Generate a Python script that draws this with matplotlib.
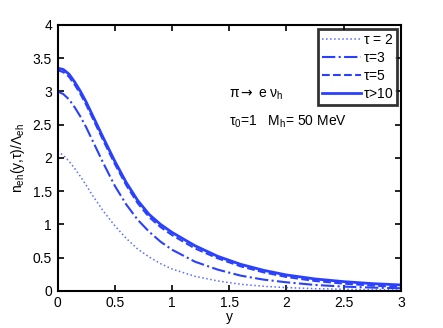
import numpy as np
import matplotlib.pyplot as plt

plt.rcParams['font.family'] = ['Liberation Sans', 'DejaVu Sans']
plt.rcParams['mathtext.default'] = 'regular'

# values
y = [0, 0.05, 0.1, 0.15, 0.2, 0.25, 0.3, 0.4, 0.5, 0.6, 0.7, 0.8, 0.9, 1.0,
     1.2, 1.4, 1.6, 1.8, 2.0, 2.25, 2.5, 2.75, 3.0]
n_tau2 = [2.1, 2.04, 1.95, 1.84, 1.72, 1.59, 1.45, 1.2, 0.98, 0.79, 0.63, 0.51,
          0.41, 0.33, 0.22, 0.15, 0.10, 0.07, 0.05, 0.035, 0.025, 0.02, 0.015]
n_tau3 = [3.0, 2.96, 2.88, 2.76, 2.62, 2.46, 2.28, 1.92, 1.58, 1.3, 1.07, 0.89,
          0.74, 0.62, 0.44, 0.32, 0.23, 0.17, 0.13, 0.09, 0.065, 0.05, 0.04]
n_tau5 = [3.32, 3.29, 3.22, 3.1, 2.96, 2.8, 2.62, 2.26, 1.91, 1.59, 1.32, 1.11,
          0.96, 0.84, 0.64, 0.49, 0.37, 0.28, 0.21, 0.15, 0.11, 0.08, 0.06]
n_tau10 = [3.35, 3.33, 3.26, 3.14, 3.0, 2.84, 2.66, 2.3, 1.95, 1.63, 1.36, 1.15,
           1.0, 0.88, 0.68, 0.52, 0.40, 0.31, 0.24, 0.18, 0.14, 0.11, 0.09]
ticks_x = [0, 0.5, 1, 1.5, 2, 2.5, 3]
ticks_y = [0, 0.5, 1, 1.5, 2, 2.5, 3, 3.5, 4]

blue = '#2a40ff'

fig = plt.figure(figsize=(4.43, 3.28), dpi=100)
ax = fig.add_axes([0.130, 0.113, 0.775, 0.811])

ax.plot(y, n_tau2, ':', color='#5a6cff', lw=1.1, label=r'$\tau$ = 2')
ax.plot(y, n_tau3, '-.', color=blue, lw=1.5, label=r'$\tau$=3')
ax.plot(y, n_tau5, '--', color=blue, lw=1.5, label=r'$\tau$=5')
ax.plot(y, n_tau10, '-', color=blue, lw=2, label=r'$\tau$>10')

ax.set_xlim(0, 3)
ax.set_ylim(0, 4)
ax.set_xticks(ticks_x)
ax.set_xticklabels([f'{t:g}' for t in ticks_x])
ax.set_yticks(ticks_y)
ax.set_yticklabels([f'{t:g}' for t in ticks_y])
ax.tick_params(direction='in', top=True, right=True, length=4, width=1.2,
               labelsize=10, pad=4)
for s in ax.spines.values():
    s.set_linewidth(1.5)

ax.set_xlabel('y', fontsize=10, labelpad=0)
ax.set_ylabel(r'n$_{eh}$(y,$\tau$)/$\Lambda_{eh}$', fontsize=10, labelpad=4)

# decay label, arrow drawn in DejaVu so it is full size
ax.text(1.5, 2.91, 'π', fontsize=10)
ax.text(1.595, 2.91, '→', fontsize=10, family='DejaVu Sans')
ax.text(1.75, 2.91, 'e ν$_h$', fontsize=10)
ax.text(1.5, 2.48, r'$\tau_0$=1   M$_h$= 50 MeV', fontsize=10)

leg = ax.legend(loc='upper right', fontsize=10, handlelength=2.8,
                handletextpad=0.15, borderpad=0.25, labelspacing=0.3,
                fancybox=False, borderaxespad=0.3)
leg.get_frame().set_edgecolor('black')
leg.get_frame().set_linewidth(2)

fig.savefig('out.png', dpi=100)
